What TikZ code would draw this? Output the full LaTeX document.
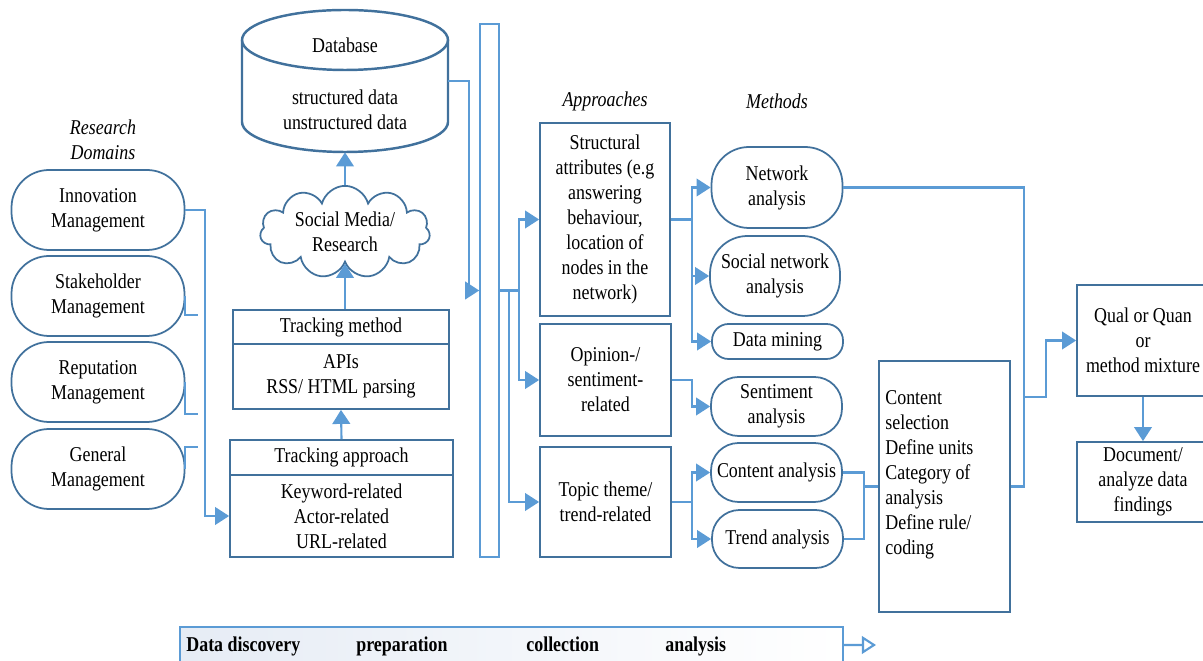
\documentclass[tikz,border=0pt]{standalone}
\usepackage{fontspec}
\setmainfont{Liberation Serif}[FakeStretch=0.85]
\usetikzlibrary{arrows.meta,positioning,shapes.symbols}

\definecolor{edge}{HTML}{41719C}
\definecolor{flow}{HTML}{5B9BD5}
\definecolor{shade}{HTML}{E6ECF5}

\begin{document}
\begin{tikzpicture}[x=0.02cm, y=-0.02cm,
    >={Triangle[length=8pt,width=10pt]},
    every node/.style={font=\fontsize{12}{14.2}\selectfont, align=center, inner sep=0pt},
    pill/.style={draw=edge, line width=1pt, minimum width=2.62cm},
    box/.style={draw=edge, line width=1pt},
    conn/.style={flow, line width=1.2pt},
    hdr/.style={font=\fontsize{12}{14.2}\selectfont\itshape},
    phasetext/.style={anchor=base west, font=\fontsize{12}{14.2}\selectfont\bfseries}]
  \useasboundingbox (0,0) rectangle (1203,661);

  % research domains
  \node[hdr] (rdom) at (103,140) {Research\\Domains};
  \node[pill, rounded corners=0.75cm, minimum width=3.46cm, minimum height=1.6cm] (innov) at (98,210) {Innovation\\Management};
  \node[pill, rounded corners=0.75cm, minimum width=3.46cm, minimum height=1.6cm] (stake) at (98,296) {Stakeholder\\Management};
  \node[pill, rounded corners=0.75cm, minimum width=3.46cm, minimum height=1.6cm] (reput) at (98,382) {Reputation\\Management};
  \node[pill, rounded corners=0.75cm, minimum width=3.46cm, minimum height=1.6cm] (gen) at (98,469) {General\\Management};

  % tracking
  \node[box, minimum width=4.46cm, minimum height=0.7cm] (tapphead) at (341.5,457.5) {Tracking approach};
  \node[box, minimum width=4.46cm, minimum height=1.64cm] (tappbody) at (341.5,516) {Keyword-related\\Actor-related\\URL-related};
  \node[box, minimum width=4.32cm, minimum height=0.68cm] (tmethead) at (341,327) {Tracking method};
  \node[box, minimum width=4.32cm, minimum height=1.3cm] (tmetbody) at (341,376.5) {APIs\\RSS/ HTML parsing};
  \node[cloud, draw=edge, line width=1pt, cloud puffs=11, aspect=2.2, minimum width=3.4cm, minimum height=1.5cm] (cloud) at (345,232) {Social Media/\\Research};

  % database
  \node[minimum width=4.12cm, minimum height=2.84cm] (db) at (345,81) {};
  \draw[edge, line width=1.4pt] (345,40) ellipse [x radius=103, y radius=30];
  \draw[edge, line width=1.4pt] (242,40) -- (242,122) arc[start angle=180, end angle=0, x radius=103, y radius=30] -- (448,40);
  \node (dbtitle) at (345,45) {Database};
  \node (dbdata) at (345,110) {structured data\\unstructured data};

  % collection bar
  \node[draw=flow, line width=0.9pt, minimum width=0.38cm, minimum height=10.66cm] (bar) at (489.5,290.5) {};

  % approaches
  \node[hdr] (apphdr) at (605,101) {Approaches};
  \node[box, minimum width=2.6cm, minimum height=3.86cm] (struct) at (605,219.5) {Structural\\attributes (e.g\\answering\\behaviour,\\location of\\nodes in the\\network)};
  \node[box, minimum width=2.62cm, minimum height=2.24cm] (opin) at (605.5,380) {Opinion-/\\sentiment-\\related};
  \node[box, minimum width=2.62cm, minimum height=2.2cm] (topic) at (605.5,502) {Topic theme/\\trend-related};

  % methods
  \node[hdr] (methdr) at (777,101) {Methods};
  \node[pill, rounded corners=0.75cm, minimum height=1.62cm] (net) at (777,187.5) {Network\\analysis};
  \node[pill, rounded corners=0.75cm, minimum width=2.6cm, minimum height=1.6cm] (snet) at (775,276) {Social network\\analysis};
  \node[pill, rounded corners=0.33cm, minimum height=0.7cm] (mining) at (777.5,341.5) {Data mining};
  \node[pill, rounded corners=0.55cm, minimum height=1.18cm] (senti) at (776.5,406.5) {Sentiment\\analysis};
  \node[pill, rounded corners=0.55cm, minimum height=1.18cm] (content) at (776.5,472.5) {Content analysis};
  \node[pill, rounded corners=0.55cm, minimum height=1.16cm] (trend) at (777.5,539) {Trend analysis};

  % content analysis steps
  \node[box, minimum width=2.62cm, minimum height=5.02cm] (csel) at (944.5,486.5) {};
  \node[anchor=west, align=left] (cseltext) at (885,475) {Content\\selection\\Define units\\Category of\\analysis\\Define rule/\\coding};

  % results
  \node[box, minimum width=2.64cm, minimum height=2.22cm] (qual) at (1143,340.5) {Qual or Quan\\or\\method mixture};
  \node[box, minimum width=2.64cm, minimum height=1.6cm] (doc) at (1143,482) {Document/\\analyze data\\findings};

  % phases
  \node[draw=flow, line width=0.9pt, left color=shade, right color=white, minimum width=13.26cm, minimum height=0.96cm] (phase) at (511.5,651) {};
  \node[phasetext] (pdisc) at (186,651) {Data discovery};
  \node[phasetext] (pprep) at (356,651) {preparation};
  \node[phasetext] (pcoll) at (526,651) {collection};
  \node[phasetext] (pana) at (665,651) {analysis};

  % junctions
  \coordinate (stakeStub) at (198,315);
  \coordinate (reputStub) at (198,414);
  \coordinate (genStub) at (198,447);
  \coordinate (ij) at (205,516);
  \coordinate (sj) at (692,219.5);
  \coordinate (oj) at (692,380);
  \coordinate (tj) at (692,502);
  \coordinate (cj) at (864,486.5);
  \coordinate (rj) at (1024,486.5);
  \coordinate (qj) at (1024,397);
  \coordinate (phaseEnd) at (876,645);

  % flows
  \draw[conn] (stake.east) |- (stakeStub);
  \draw[conn] (reput.east) |- (reputStub);
  \draw[conn] (gen.east) |- (genStub);
  \draw[conn,->] (innov.east) -| (ij) -- (tappbody.west);
  \draw[conn,->] (tapphead.north) -- (tmetbody.south);
  \draw[conn,->] (cloud.south |- tmethead.north) -- (cloud.south);
  \draw[conn,->] (cloud.north) -- (db.south);
  \draw[conn,->] (db.east) -| ([xshift=-0.2cm]bar.west) -- (bar.west);
  \draw[conn,->] (bar.east) -| ([xshift=-0.4cm]struct.west) -- (struct.west);
  \draw[conn,->] (bar.east) -| ([xshift=-0.4cm]opin.west) -- (opin.west);
  \draw[conn,->] (bar.east) -| ([xshift=-0.6cm]topic.west) -- (topic.west);
  \draw[conn,->] (struct.east) -- (sj) |- (net.west);
  \draw[conn,->] (sj) |- (snet.west);
  \draw[conn,->] (sj) |- (mining.west);
  \draw[conn,->] (opin.east) -- (oj) |- (senti.west);
  \draw[conn,->] (topic.east) -- (tj) |- (content.west);
  \draw[conn,->] (tj) |- (trend.west);
  \draw[conn] (content.east) -| (cj);
  \draw[conn] (trend.east) -| (cj) -- (csel.west);
  \draw[conn] (net.east) -| (rj) -- (csel.east);
  \draw[conn,->] (qj) -- ++(22,0) |- (qual.west);
  \draw[conn,->] (qual.south) -- (doc.north);
  \draw[conn,-{Triangle[open,fill=white,length=8pt,width=10pt]}] ([yshift=0.12cm]phase.east) -- (phaseEnd);
\end{tikzpicture}
\end{document}
